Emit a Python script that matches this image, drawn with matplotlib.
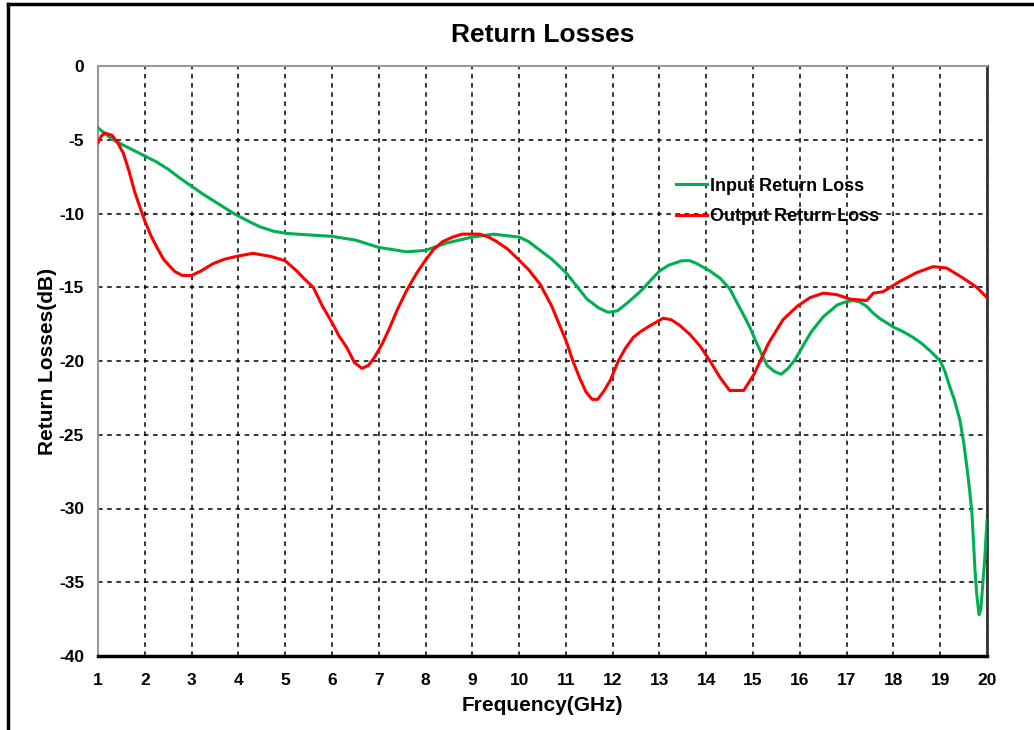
import matplotlib
matplotlib.use("Agg")
import matplotlib.pyplot as plt
from matplotlib.lines import Line2D

# Frequency (GHz) and return loss (dB) for the two ports
freq_in = [1.0, 1.32, 1.5, 1.75, 2.0, 2.25, 2.5, 2.75, 3.0, 3.25, 3.5, 3.7,
           3.9, 4.2, 4.46, 4.75, 5.03, 5.5, 6.0, 6.5, 7.0, 7.6, 8.0, 8.45,
           9.0, 9.45, 10.0, 10.2, 10.45, 10.7, 11.0, 11.2, 11.45, 11.7, 11.9,
           12.1, 12.3, 12.48, 12.65, 12.82, 13.0, 13.2, 13.48, 13.65, 13.8,
           14.08, 14.3, 14.5, 14.65, 14.8, 14.93, 15.05, 15.18, 15.3, 15.45,
           15.6, 15.75, 15.9, 16.08, 16.25, 16.5, 16.65, 16.8, 16.97, 17.14,
           17.28, 17.43, 17.55, 17.7, 17.85, 18.0, 18.2, 18.42, 18.6, 18.78,
           19.0, 19.1, 19.2, 19.3, 19.42, 19.5, 19.57, 19.63, 19.68, 19.71,
           19.74, 19.78, 19.83, 19.87, 19.91, 19.95, 20.0]
input_rl = [-4.2, -5.0, -5.3, -5.7, -6.1, -6.5, -7.0, -7.6, -8.15, -8.7, -9.2,
            -9.6, -10.0, -10.5, -10.9, -11.2, -11.35, -11.45, -11.55, -11.8,
            -12.3, -12.6, -12.5, -12.0, -11.6, -11.4, -11.6, -11.9, -12.5,
            -13.1, -14.0, -14.8, -15.8, -16.4, -16.7, -16.6, -16.1, -15.6,
            -15.1, -14.5, -13.9, -13.5, -13.2, -13.2, -13.4, -13.9, -14.4,
            -15.1, -16.0, -16.9, -17.7, -18.6, -19.5, -20.3, -20.7, -20.9,
            -20.5, -19.9, -18.9, -18.0, -17.0, -16.6, -16.2, -16.0, -15.9,
            -16.0, -16.3, -16.7, -17.1, -17.4, -17.7, -18.0, -18.4, -18.8,
            -19.3, -20.0, -20.7, -21.7, -22.6, -24.0, -25.5, -27.2, -28.8,
            -30.4, -32.2, -34.0, -35.8, -37.2, -36.8, -35.1, -33.5, -30.8]

freq_out = [1.0, 1.07, 1.15, 1.3, 1.42, 1.54, 1.66, 1.79, 1.9, 2.0, 2.13, 2.26,
            2.4, 2.54, 2.65, 2.8, 3.0, 3.2, 3.46, 3.7, 3.97, 4.31, 4.68, 5.0,
            5.25, 5.4, 5.6, 5.8, 6.02, 6.15, 6.32, 6.48, 6.64, 6.78, 6.92,
            7.08, 7.24, 7.4, 7.6, 7.8, 7.99, 8.18, 8.37, 8.58, 8.78, 9.16,
            9.35, 9.52, 9.75, 9.98, 10.2, 10.45, 10.7, 11.0, 11.15, 11.3,
            11.43, 11.56, 11.68, 11.82, 11.95, 12.12, 12.28, 12.44, 12.6,
            12.8, 13.08, 13.25, 13.44, 13.65, 13.87, 14.08, 14.29, 14.5, 14.8,
            15.02, 15.33, 15.64, 15.94, 16.22, 16.5, 16.79, 17.07, 17.43,
            17.57, 17.78, 18.14, 18.5, 18.85, 19.14, 19.5, 19.78, 20.0]
output_rl = [-5.2, -4.75, -4.55, -4.7, -5.2, -5.9, -7.1, -8.6, -9.6, -10.5,
             -11.5, -12.3, -13.1, -13.6, -13.95, -14.2, -14.2, -13.9, -13.4,
             -13.1, -12.9, -12.7, -12.9, -13.2, -13.9, -14.4, -15.0, -16.3,
             -17.5, -18.3, -19.1, -20.1, -20.5, -20.3, -19.7, -18.8, -17.7,
             -16.5, -15.2, -14.1, -13.2, -12.4, -11.9, -11.6, -11.4, -11.4,
             -11.6, -11.9, -12.4, -13.1, -13.8, -14.8, -16.3, -18.6, -20.0,
             -21.2, -22.1, -22.6, -22.6, -22.0, -21.3, -20.0, -19.1, -18.4,
             -18.0, -17.6, -17.1, -17.2, -17.6, -18.2, -19.0, -20.0, -21.1,
             -22.0, -22.0, -20.9, -18.8, -17.2, -16.3, -15.7, -15.4, -15.5,
             -15.8, -15.9, -15.4, -15.3, -14.6, -14.0, -13.6, -13.7, -14.4,
             -15.0, -15.7]

x_ticks = list(range(1, 21))
y_ticks = [0, -5, -10, -15, -20, -25, -30, -35, -40]

plt.rcParams['font.family'] = ['Liberation Sans', 'DejaVu Sans']
plt.rcParams['font.weight'] = 'bold'

fig = plt.figure(figsize=(10.34, 7.30), dpi=100)
ax = fig.add_axes([98 / 1034, 1 - 656 / 730, (987 - 98) / 1034, (656 - 66) / 730])

ax.plot(freq_in, input_rl, color='#00B050', lw=2.2, label='Input Return Loss',
        solid_joinstyle='round', zorder=3)
ax.plot(freq_out, output_rl, color='#FF0000', lw=2.2, label='Output Return Loss',
        solid_joinstyle='round', zorder=3)

ax.set_xlim(1, 20)
ax.set_ylim(-40, 0)
ax.set_xticks(x_ticks)
ax.set_yticks(y_ticks)
ax.set_xticklabels([str(v) for v in x_ticks], fontsize=12.5, fontweight='bold')
ax.set_yticklabels([str(v) for v in y_ticks], fontsize=12.5, fontweight='bold')
ax.tick_params(axis='both', length=0)
ax.tick_params(axis='x', pad=12)
ax.tick_params(axis='y', pad=10)

ax.grid(True, color='black', linestyle=(0, (3, 3)), linewidth=1.1, zorder=1)
ax.set_axisbelow(True)

for side in ('left', 'top'):
    ax.spines[side].set_color('#999999')
    ax.spines[side].set_linewidth(1.5)
ax.spines['right'].set_color('#333333')
ax.spines['right'].set_linewidth(2.0)
ax.spines['bottom'].set_color('black')
ax.spines['bottom'].set_linewidth(2.5)

ax.set_title('Return Losses', fontsize=19, fontweight='bold', pad=17)
ax.set_xlabel('Frequency(GHz)', fontsize=15, fontweight='bold', labelpad=6)
ax.set_ylabel('Return Losses(dB)', fontsize=15, fontweight='bold', labelpad=1)

leg = ax.legend(loc='upper left', bbox_to_anchor=(0.650, 0.811), frameon=False,
                fontsize=13, handlelength=1.75, handletextpad=0.12,
                borderpad=0, borderaxespad=0, labelspacing=0.75)
for t in leg.get_texts():
    t.set_fontweight('bold')

# Outer border along the top and left of the figure
fig.add_artist(Line2D([8 / 1034, 1.0], [1 - 4 / 730, 1 - 4 / 730],
                      transform=fig.transFigure, color='black', lw=2.5))
fig.add_artist(Line2D([8 / 1034, 8 / 1034], [0.0, 1 - 4 / 730],
                      transform=fig.transFigure, color='black', lw=2.5))

fig.savefig('out.png', dpi=100)
